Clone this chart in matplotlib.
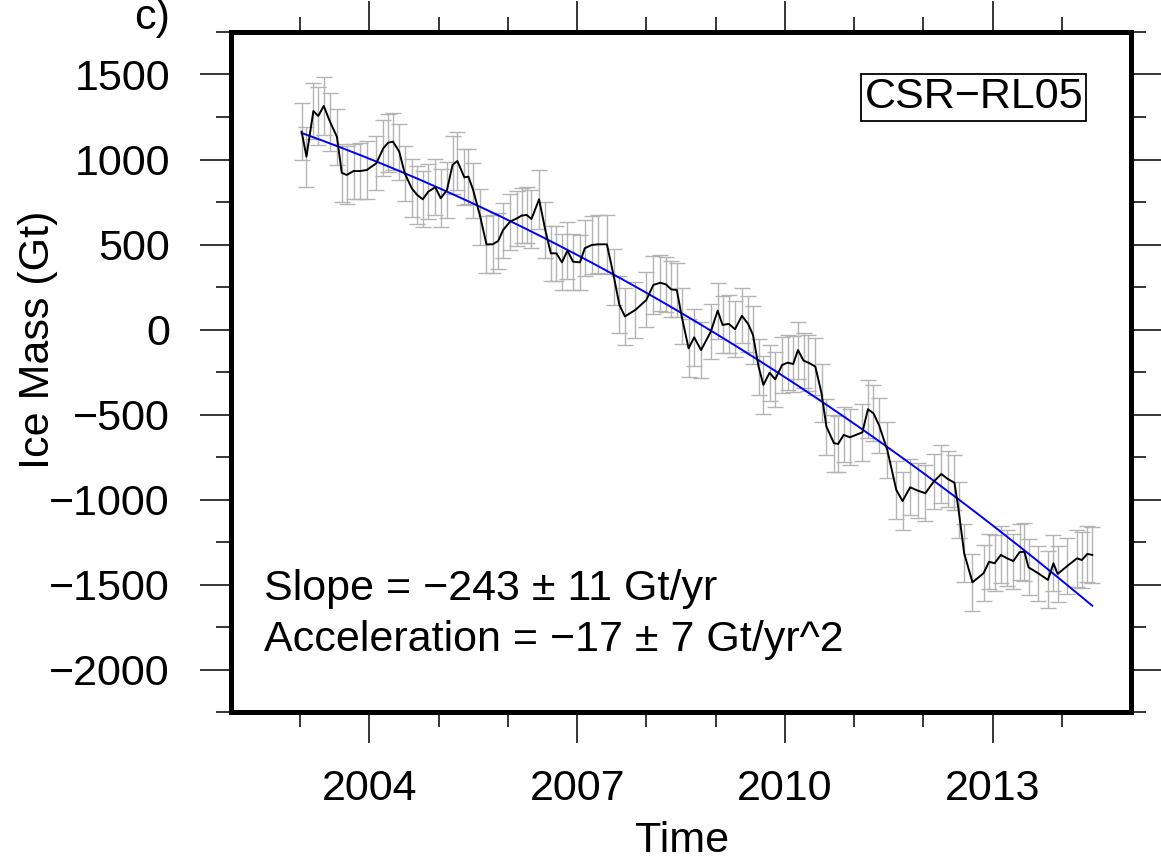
import numpy as np
import matplotlib
matplotlib.use("Agg")
import matplotlib.pyplot as plt
from matplotlib.ticker import MultipleLocator, FixedLocator

plt.rcParams['font.family'] = ['Liberation Sans', 'DejaVu Sans']

# monthly ice mass anomaly (Gt)
time = [2003.02, 2003.09, 2003.19, 2003.26, 2003.34, 2003.43, 2003.53, 2003.60, 2003.67, 2003.77, 2003.86, 2003.96,
        2004.10, 2004.20, 2004.27, 2004.34, 2004.43, 2004.51, 2004.61, 2004.69, 2004.77, 2004.85, 2004.95,
        2005.03, 2005.12, 2005.20, 2005.27, 2005.37, 2005.43, 2005.50, 2005.60, 2005.69, 2005.78, 2005.86, 2005.93,
        2006.03, 2006.13, 2006.20, 2006.27, 2006.34, 2006.45, 2006.54, 2006.62, 2006.70, 2006.78, 2006.86, 2006.94,
        2007.04, 2007.11, 2007.21, 2007.30, 2007.43, 2007.53, 2007.61, 2007.69, 2007.84, 2008.00,
        2008.10, 2008.20, 2008.28, 2008.36, 2008.44, 2008.51, 2008.61, 2008.69, 2008.79, 2008.93,
        2009.03, 2009.10, 2009.19, 2009.28, 2009.38, 2009.47, 2009.54, 2009.62, 2009.69, 2009.78, 2009.86, 2009.96,
        2010.04, 2010.12, 2010.19, 2010.27, 2010.34, 2010.44, 2010.53, 2010.60, 2010.71, 2010.77, 2010.85, 2010.94,
        2011.12, 2011.20, 2011.28, 2011.36, 2011.48, 2011.61, 2011.70, 2011.81, 2011.92,
        2012.03, 2012.15, 2012.26, 2012.36, 2012.45, 2012.51, 2012.59, 2012.71, 2012.87, 2012.95,
        2013.03, 2013.12, 2013.21, 2013.30, 2013.39, 2013.46, 2013.52, 2013.66, 2013.80, 2013.88, 2013.94,
        2014.08, 2014.22, 2014.29, 2014.37, 2014.44]

mass = [1164, 1017, 1285, 1256, 1315, 1222, 1134, 922, 909, 932, 932, 938,
        978, 1066, 1099, 1105, 1046, 919, 831, 791, 766, 811, 837,
        772, 821, 968, 991, 895, 899, 817, 664, 501, 501, 521, 585,
        634, 654, 670, 674, 650, 766, 585, 448, 448, 395, 464, 399,
        395, 478, 497, 501, 501, 311, 145, 77, 115, 174,
        262, 275, 266, 236, 232, 77, -111, -46, -121, -13,
        111, 27, 33, 2, 80, 33, -32, -218, -326, -254, -293, -209,
        -195, -203, -121, -183, -195, -218, -375, -571, -669, -673, -620, -634,
        -605, -469, -493, -562, -709, -944, -1009, -928, -948,
        -963, -895, -850, -881, -901, -1062, -1316, -1487, -1434, -1366,
        -1375, -1326, -1346, -1362, -1310, -1307, -1399, -1434, -1473, -1375, -1438,
        -1391, -1346, -1356, -1320, -1326]

error = [166, 177, 167, 170, 168, 172, 165, 170, 168, 162, 165, 168,
         160, 165, 170, 168, 165, 162, 170, 168, 165, 160, 165,
         170, 165, 168, 172, 165, 162, 160, 165, 168, 170, 165, 162,
         165, 160, 162, 165, 168, 172, 165, 160, 162, 165, 168, 165,
         160, 165, 168, 170, 172, 165, 168, 170, 165, 162,
         168, 165, 162, 165, 160, 165, 170, 168, 165, 162,
         165, 168, 170, 165, 162, 165, 168, 165, 170, 165, 162, 165,
         160, 165, 168, 162, 165, 168, 170, 165, 168, 165, 162, 165,
         168, 170, 165, 162, 165, 168, 170, 165, 162,
         165, 160, 168, 165, 162, 165, 170, 169, 165, 162,
         165, 168, 165, 162, 165, 170, 165, 162, 168, 165, 162,
         165, 168, 165, 166, 166]

# quadratic trend from the annotation (centred on mid-epoch)
fit_epoch = 2008.7
fit_offset = 50
fit_slope = -243
fit_accel = -17

year_labels = [2004, 2007, 2010, 2013]
year_minor = list(range(2003, 2015))

FS = 31

fig = plt.figure(figsize=(11.61, 8.59), dpi=100)
ax = fig.add_axes([231 / 1161, 1 - 712 / 859, 900 / 1161, 680 / 859])

ax.errorbar(time, mass, yerr=error, fmt='none', ecolor='#b4b4b4',
            elinewidth=1.0, capsize=6, capthick=1.0, zorder=1)
ax.plot(time, mass, color='black', lw=1.4, zorder=3)

tf = np.linspace(time[0], time[-1], 200)
dt = tf - fit_epoch
ax.plot(tf, fit_offset + fit_slope * dt + 0.5 * fit_accel * dt ** 2,
        color='#0000ff', lw=1.4, zorder=2)

ax.set_xlim(2002, 2015)
ax.set_ylim(-2250, 1750)
ax.set_xticks(year_labels)
ax.xaxis.set_minor_locator(FixedLocator(year_minor))
ax.yaxis.set_major_locator(MultipleLocator(500))
ax.yaxis.set_minor_locator(MultipleLocator(250))

ax.tick_params(which='both', direction='out', top=True, right=True,
               width=1.1, labelsize=FS)
ax.tick_params(which='major', length=22)
ax.tick_params(which='minor', length=11)
ax.tick_params(axis='x', pad=19)
ax.tick_params(axis='y', pad=22)
for s in ax.spines.values():
    s.set_linewidth(3.6)

ax.text(0.0367, 0.1647, 'Slope = \u2212243 \u00b1 11 Gt/yr', transform=ax.transAxes,
        fontsize=FS, ha='left', va='baseline')
ax.text(0.0367, 0.0897, 'Acceleration = \u221217 \u00b1 7 Gt/yr^2', transform=ax.transAxes,
        fontsize=FS, ha='left', va='baseline')
ax.text(0.9467, 0.888, 'CSR\u2212RL05', transform=ax.transAxes, fontsize=FS,
        ha='right', va='baseline',
        bbox=dict(boxstyle='square,pad=0.08', facecolor='white', edgecolor='black', lw=1.3))

fig.text(38 / 1161, 1 - 340 / 859, 'Ice Mass (Gt)', rotation=90, fontsize=FS,
         ha='center', va='center')
fig.text(682 / 1161, 1 - 852 / 859, 'Time', fontsize=FS, ha='center', va='baseline')
fig.text(170 / 1161, 1 - 29 / 859, 'c)', fontsize=FS, ha='right', va='baseline')

fig.savefig('out.png', dpi=100)
